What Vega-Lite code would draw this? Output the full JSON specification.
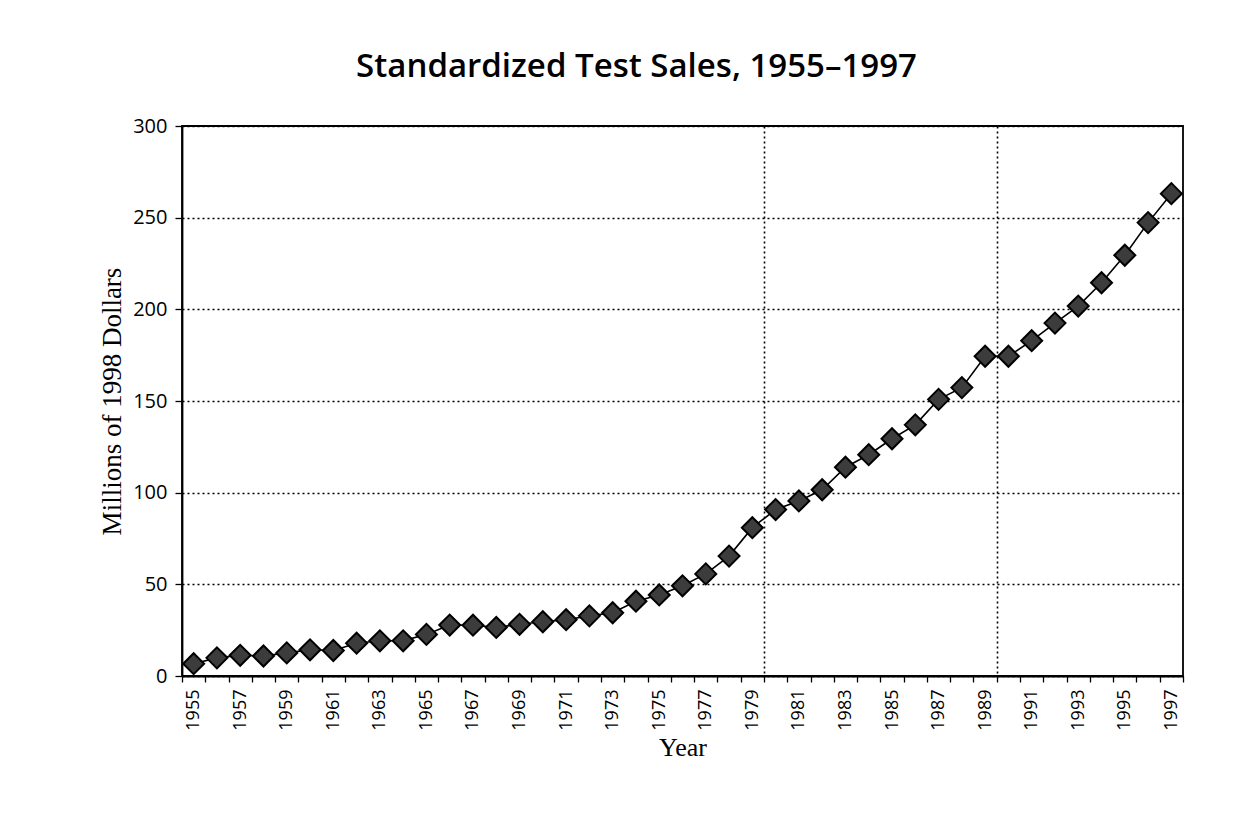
{
  "$schema": "https://vega.github.io/schema/vega-lite/v6.json",
  "autosize": "none",
  "padding": {"left": 182, "top": 126, "right": 76, "bottom": 144},
  "width": 1001,
  "height": 550,
  "background": "white",
  "title": {
    "text": "Standardized Test Sales, 1955–1997",
    "font": "Open Sans",
    "fontSize": 33,
    "fontWeight": 600,
    "color": "black",
    "anchor": "middle",
    "dx": -46,
    "offset": 32
  },
  "data": {
    "values": [
      {"year": 1955, "sales": 6.7},
      {"year": 1956, "sales": 9.9},
      {"year": 1957, "sales": 11.3},
      {"year": 1958, "sales": 10.9},
      {"year": 1959, "sales": 12.6},
      {"year": 1960, "sales": 14.3},
      {"year": 1961, "sales": 13.9},
      {"year": 1962, "sales": 17.9},
      {"year": 1963, "sales": 19.2},
      {"year": 1964, "sales": 19.2},
      {"year": 1965, "sales": 22.7},
      {"year": 1966, "sales": 27.8},
      {"year": 1967, "sales": 27.7},
      {"year": 1968, "sales": 26.5},
      {"year": 1969, "sales": 28.2},
      {"year": 1970, "sales": 29.6},
      {"year": 1971, "sales": 30.7},
      {"year": 1972, "sales": 32.8},
      {"year": 1973, "sales": 34.5},
      {"year": 1974, "sales": 40.8},
      {"year": 1975, "sales": 44.2},
      {"year": 1976, "sales": 49.2},
      {"year": 1977, "sales": 55.7},
      {"year": 1978, "sales": 65.4},
      {"year": 1979, "sales": 80.9},
      {"year": 1980, "sales": 90.8},
      {"year": 1981, "sales": 95.5},
      {"year": 1982, "sales": 101.6},
      {"year": 1983, "sales": 113.9},
      {"year": 1984, "sales": 120.7},
      {"year": 1985, "sales": 129.4},
      {"year": 1986, "sales": 137.0},
      {"year": 1987, "sales": 150.9},
      {"year": 1988, "sales": 157.3},
      {"year": 1989, "sales": 174.4},
      {"year": 1990, "sales": 174.4},
      {"year": 1991, "sales": 182.9},
      {"year": 1992, "sales": 192.5},
      {"year": 1993, "sales": 201.8},
      {"year": 1994, "sales": 214.5},
      {"year": 1995, "sales": 229.5},
      {"year": 1996, "sales": 247.3},
      {"year": 1997, "sales": 263.1}
    ]
  },
  "encoding": {
    "x": {
      "field": "year",
      "type": "quantitative",
      "title": "Year",
      "scale": {"domain": [1954.5, 1997.5], "nice": false, "zero": false},
      "axis": {
        "values": [1954.5, 1955, 1955.5, 1956.5, 1957, 1957.5, 1958.5, 1959, 1959.5, 1960.5, 1961, 1961.5, 1962.5, 1963, 1963.5, 1964.5, 1965, 1965.5, 1966.5, 1967, 1967.5, 1968.5, 1969, 1969.5, 1970.5, 1971, 1971.5, 1972.5, 1973, 1973.5, 1974.5, 1975, 1975.5, 1976.5, 1977, 1977.5, 1978.5, 1979, 1979.5, 1980.5, 1981, 1981.5, 1982.5, 1983, 1983.5, 1984.5, 1985, 1985.5, 1986.5, 1987, 1987.5, 1988.5, 1989, 1989.5, 1990.5, 1991, 1991.5, 1992.5, 1993, 1993.5, 1994.5, 1995, 1995.5, 1996.5, 1997, 1997.5],
        "labelExpr": "datum.value % 1 == 0 ? '' + datum.value : ''",
        "labelAngle": 270,
        "labelFont": "Open Sans",
        "labelFontSize": 18,
        "labelFontWeight": 500,
        "labelColor": "black",
        "labelPadding": 7,
        "labelOverlap": false,
        "labelBound": false,
        "labelFlush": false,
        "tickColor": "black",
        "tickSize": 6,
        "tickWidth": 1.3,
        "tickOpacity": {"condition": {"test": "datum.value % 1 != 0", "value": 1}, "value": 0},
        "grid": true,
        "gridColor": "black",
        "gridDash": [2, 3],
        "gridWidth": 1.6,
        "gridOpacity": {"condition": {"test": "datum.value == 1979.5 || datum.value == 1989.5", "value": 1}, "value": 0},
        "domainColor": "black",
        "domainWidth": 1.8,
        "titleFont": "Liberation Serif",
        "titleFontSize": 26,
        "titleFontWeight": "normal",
        "titleColor": "black",
        "titlePadding": 4
      }
    },
    "y": {
      "field": "sales",
      "type": "quantitative",
      "title": "Millions of 1998 Dollars",
      "scale": {"domain": [0, 300], "nice": false},
      "axis": {
        "values": [0, 50, 100, 150, 200, 250, 300],
        "labelFont": "Open Sans",
        "labelFontSize": 20,
        "labelFontWeight": 500,
        "labelColor": "black",
        "labelPadding": 8,
        "tickColor": "black",
        "tickSize": 7,
        "tickWidth": 1.3,
        "grid": true,
        "gridColor": "black",
        "gridDash": [2, 3],
        "gridWidth": 1.6,
        "domainColor": "black",
        "domainWidth": 1.8,
        "titleFont": "Liberation Serif",
        "titleFontSize": 27,
        "titleFontWeight": "normal",
        "titleColor": "black",
        "titlePadding": 6
      }
    }
  },
  "layer": [
    {"mark": {"type": "line", "color": "black", "strokeWidth": 1.6}},
    {"mark": {"type": "point", "shape": "diamond", "size": 440, "filled": true, "fill": "#3c3c3c", "stroke": "black", "strokeWidth": 2, "opacity": 1}}
  ],
  "config": {
    "view": {"stroke": "black", "strokeWidth": 1.8}
  }
}
